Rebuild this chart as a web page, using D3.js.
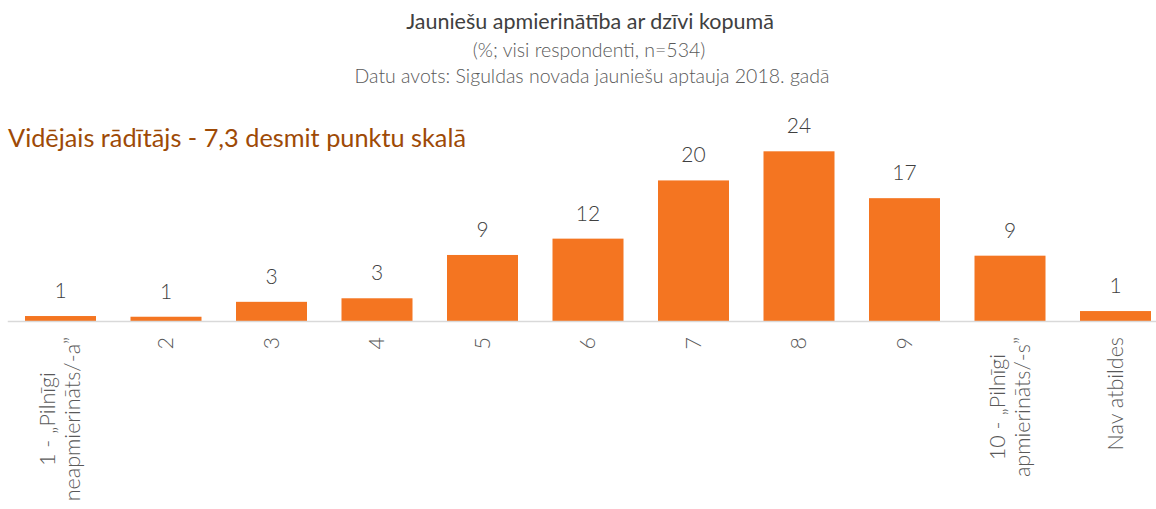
<!DOCTYPE html>
<html lang="lv">
<head>
<meta charset="utf-8">
<title>Jauniešu apmierinātība ar dzīvi kopumā</title>
<script src="https://cdn.jsdelivr.net/npm/d3@7"></script>
<style>
  body { margin: 0; background: #fff; }
  text { font-family: Lato, "Open Sans", sans-serif; }
</style>
</head>
<body>
<div id="chart"></div>
<script>
// data
var categories = [
  ["1 - \u201ePilnīgi", "neapmierināts/-a\u201d"],
  ["2"], ["3"], ["4"], ["5"], ["6"], ["7"], ["8"], ["9"],
  ["10 - \u201ePilnīgi", "apmierināts/-s\u201d"],
  ["Nav atbildes"]
];
var values = [0.7, 0.6, 2.7, 3.2, 9.3, 11.6, 19.8, 23.9, 17.3, 9.2, 1.4];
var title = "Jauniešu apmierinātība ar dzīvi kopumā";
var subtitle = "(%; visi respondenti, n=534)";
var source = "Datu avots: Siguldas novada jauniešu aptauja 2018. gadā";
var note = "Vidējais rādītājs - 7,3 desmit punktu skalā";

var w = 1156, h = 509;
var base = 321;

var svg = d3.select("#chart").append("svg")
  .attr("width", w)
  .attr("height", h);

var x = d3.scaleBand()
  .domain(d3.range(values.length))
  .range([7.75, 7.75 + 105.5 * values.length])
  .paddingInner(0.327)
  .paddingOuter(0.1635);

var y = d3.scaleLinear()
  .domain([0, 25])
  .range([base, base - 177.5]);

// titles
svg.append("text")
  .attr("x", 590).attr("y", 29)
  .attr("text-anchor", "middle")
  .attr("font-size", 21.5)
  .attr("fill", "#404040")
  .text(title);

svg.append("text")
  .attr("x", 589).attr("y", 57)
  .attr("text-anchor", "middle")
  .attr("font-size", 19.5)
  .attr("font-weight", 300)
  .attr("fill", "#595959")
  .text(subtitle);

svg.append("text")
  .attr("x", 592).attr("y", 83)
  .attr("text-anchor", "middle")
  .attr("font-size", 19.5)
  .attr("font-weight", 300)
  .attr("fill", "#595959")
  .text(source);

svg.append("text")
  .attr("x", 8).attr("y", 147)
  .attr("font-size", 25.3)
  .attr("fill", "#9E4A06")
  .text(note);

// bars
svg.selectAll(".bar")
  .data(values)
  .enter()
  .append("rect")
  .attr("class", "bar")
  .attr("x", function(d, i) { return x(i); })
  .attr("width", x.bandwidth())
  .attr("y", function(d) { return y(d); })
  .attr("height", function(d) { return y(0) - y(d); })
  .attr("fill", "#F47521");

// axis line
svg.append("line")
  .attr("x1", x.range()[0]).attr("x2", w)
  .attr("y1", base + 0.5).attr("y2", base + 0.5)
  .attr("stroke", "#D9D9D9")
  .attr("stroke-width", 1.5);

// value labels
svg.selectAll(".val")
  .data(values)
  .enter()
  .append("text")
  .attr("class", "val")
  .attr("x", function(d, i) { return x(i) + x.bandwidth() / 2; })
  .attr("y", function(d) { return y(d) - 18; })
  .attr("text-anchor", "middle")
  .attr("font-size", 21)
  .attr("font-weight", 300)
  .attr("fill", "#404040")
  .text(function(d) { return Math.round(d); });

// category labels, rotated
var lineGap = 25;
categories.forEach(function(lines, i) {
  var cx = x(i) + x.bandwidth() / 2;
  var g = svg.append("g");
  var t = g.append("text")
    .attr("font-size", 21.5)
    .attr("font-weight", 300)
    .attr("fill", "#595959")
    .attr("text-anchor", "middle");
  lines.forEach(function(s, j) {
    t.append("tspan")
      .attr("x", 0)
      .attr("y", (j - (lines.length - 1) / 2) * lineGap + 7)
      .text(s);
  });
  var len = d3.max(t.selectAll("tspan").nodes(), function(n) { return n.getComputedTextLength(); });
  g.attr("transform", "translate(" + cx + "," + (337 + len / 2) + ") rotate(-90)");
});
</script>
</body>
</html>
